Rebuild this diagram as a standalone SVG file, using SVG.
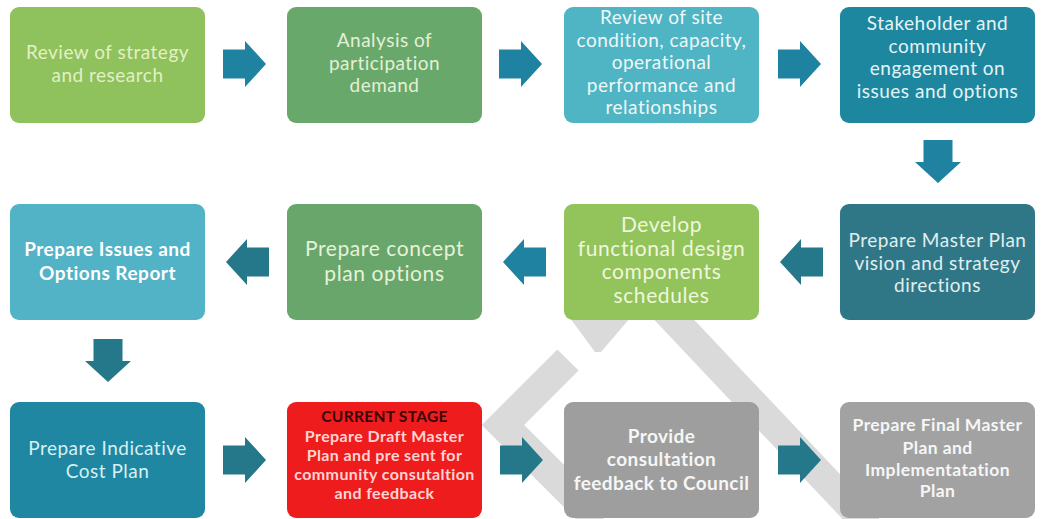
<svg xmlns="http://www.w3.org/2000/svg" width="1041" height="519" viewBox="0 0 1041 519">
<style>
text{font-family:Lato,"Open Sans","DejaVu Sans",sans-serif;text-anchor:middle;font-size:19px;letter-spacing:0.5px}
.b{font-weight:bold}
.big{font-size:21px;letter-spacing:0.6px}
.band{fill:none;stroke:#dadada;stroke-width:30;stroke-linejoin:miter}
.arA{fill:#1e82a0}
.arB{fill:#25788a}
</style>
<defs>
<path id="arr" d="M0,-14.5 H22 V-23 L43,0 L22,23 V14.5 H0 Z"/>
</defs>
<rect width="1041" height="519" fill="#ffffff"/>
<g id="background-bands">
<polyline class="band" points="568,360 503,425 600,522"/>
<line class="band" x1="664" y1="309" x2="870" y2="527" style="stroke-width:29"/>
<polygon points="570,318 630,318 601,352 595,352" fill="#dadada"/>
</g>
<g id="connectors">
<use href="#arr" class="arA" transform="translate(223,64)"/>
<use href="#arr" class="arA" transform="translate(499,64)"/>
<use href="#arr" class="arA" transform="translate(778,64)"/>
<use href="#arr" class="arA" transform="translate(938,140) rotate(90)"/>
<use href="#arr" class="arB" transform="translate(823,262) rotate(180)"/>
<use href="#arr" class="arA" transform="translate(546,262) rotate(180)"/>
<use href="#arr" class="arB" transform="translate(269,262) rotate(180)"/>
<use href="#arr" class="arB" transform="translate(108,339) rotate(90)"/>
<use href="#arr" class="arB" transform="translate(223,460)"/>
<use href="#arr" class="arB" transform="translate(500,460)"/>
<use href="#arr" class="arB" transform="translate(778,460)"/>
</g>
<g id="n1">
<rect x="10" y="7" width="195" height="116" rx="9" fill="#8fc15c"/>
<text fill="#e2f0c6"><tspan x="107.5" y="59">Review of strategy</tspan><tspan x="107.5" y="82">and research</tspan></text>
</g>
<g id="n2">
<rect x="287" y="7" width="195" height="116" rx="9" fill="#68a86b"/>
<text fill="#e4f0d6"><tspan x="384.5" y="47">Analysis of</tspan><tspan x="384.5" y="69.5">participation</tspan><tspan x="384.5" y="92">demand</tspan></text>
</g>
<g id="n3">
<rect x="564" y="7" width="195" height="116" rx="9" fill="#4fb4c4"/>
<text fill="#eef8f8"><tspan x="661.5" y="24">Review of site</tspan><tspan x="661.5" y="46.5">condition, capacity,</tspan><tspan x="661.5" y="69">operational</tspan><tspan x="661.5" y="91.5">performance and</tspan><tspan x="661.5" y="114">relationships</tspan></text>
</g>
<g id="n4">
<rect x="840" y="7" width="195" height="116" rx="9" fill="#1d87a0"/>
<text fill="#e6f3f5"><tspan x="937.5" y="30">Stakeholder and</tspan><tspan x="937.5" y="52.5">community</tspan><tspan x="937.5" y="75">engagement on</tspan><tspan x="937.5" y="97.5">issues and options</tspan></text>
</g>
<g id="n5">
<rect x="10" y="204" width="195" height="116" rx="9" fill="#52b2c6"/>
<text class="b" fill="#ffffff"><tspan x="107.5" y="256">Prepare Issues and</tspan><tspan x="107.5" y="280">Options Report</tspan></text>
</g>
<g id="n6">
<rect x="287" y="204" width="195" height="116" rx="9" fill="#69a66b"/>
<text class="big" fill="#e6f2d8"><tspan x="384.5" y="256">Prepare concept</tspan><tspan x="384.5" y="281">plan options</tspan></text>
</g>
<g id="n7">
<rect x="564" y="204" width="195" height="116" rx="9" fill="#93c35b"/>
<text class="big" fill="#eef7de"><tspan x="661.5" y="232">Develop</tspan><tspan x="661.5" y="255.5">functional design</tspan><tspan x="661.5" y="279">components</tspan><tspan x="661.5" y="302.5">schedules</tspan></text>
</g>
<g id="n8">
<rect x="840" y="204" width="195" height="116" rx="9" fill="#2f7786"/>
<text fill="#e0eef0"><tspan x="937.5" y="247">Prepare Master Plan</tspan><tspan x="937.5" y="270">vision and strategy</tspan><tspan x="937.5" y="292">directions</tspan></text>
</g>
<g id="n9">
<rect x="10" y="402" width="195" height="116" rx="9" fill="#1f87a1"/>
<text fill="#d8eff4"><tspan x="107.5" y="455">Prepare Indicative</tspan><tspan x="107.5" y="478">Cost Plan</tspan></text>
</g>
<g id="n10">
<rect x="287" y="402" width="195" height="116" rx="9" fill="#ee1c1c"/>
<text class="b" fill="#3a0606" style="font-size:15.5px;letter-spacing:0.3px"><tspan x="384.5" y="422">CURRENT STAGE</tspan></text>
<text class="b" fill="#ffd4d4" style="font-size:16px;letter-spacing:0.4px"><tspan x="384.5" y="441.5">Prepare Draft Master</tspan><tspan x="384.5" y="460.5">Plan and pre sent for</tspan><tspan x="384.5" y="479.5">community consutaltion</tspan><tspan x="384.5" y="498.5">and feedback</tspan></text>
</g>
<g id="n11">
<rect x="564" y="402" width="195" height="116" rx="9" fill="#9e9e9e"/>
<text class="b" fill="#f6f6f6" style="letter-spacing:0.4px"><tspan x="661.5" y="443">Provide</tspan><tspan x="661.5" y="466">consultation</tspan><tspan x="661.5" y="490">feedback to Council</tspan></text>
</g>
<g id="n12">
<rect x="840" y="402" width="195" height="116" rx="9" fill="#a2a2a2"/>
<text class="b" fill="#f6f6f6" style="font-size:17.5px;letter-spacing:0.4px"><tspan x="937.5" y="431">Prepare Final Master</tspan><tspan x="937.5" y="454">Plan and</tspan><tspan x="937.5" y="475.5">Implementatation</tspan><tspan x="937.5" y="497">Plan</tspan></text>
</g>
</svg>
